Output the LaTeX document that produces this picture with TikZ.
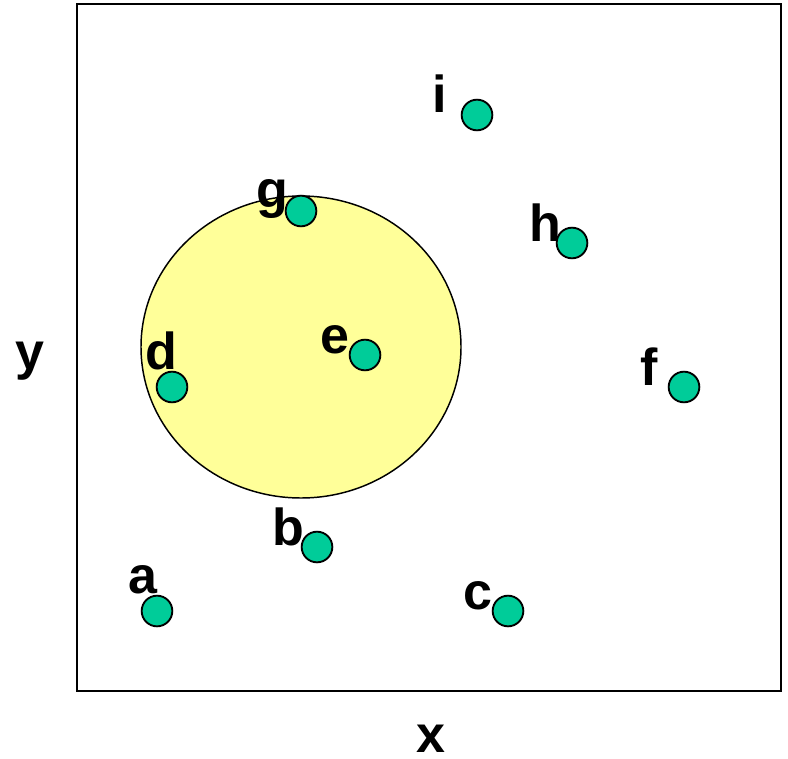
\documentclass[tikz,border=0pt]{standalone}
\usepackage{fontspec}
\setmainfont{Liberation Sans}
\usepackage{tikz}
\usetikzlibrary{positioning}

\definecolor{dotgreen}{HTML}{00CC99}
\definecolor{areayellow}{HTML}{FFFF99}
\tikzset{
  pt/.style={circle,draw=black,line width=1.4pt,fill=dotgreen,minimum size=23pt,inner sep=0pt},
  lbl/.style={anchor=base west,inner sep=0pt,font=\fontsize{39}{39}\selectfont\bfseries},
}

\begin{document}
\begin{tikzpicture}[x=0.75pt,y=-0.75pt]
  \useasboundingbox (0,0) rectangle (788,759);
  \draw[line width=1.6pt] (77,4) rectangle (781,691);
  \draw[line width=1.1pt,fill=areayellow] (301,347) ellipse [x radius=160,y radius=151]; % query region
  \node[pt] (a) at (157,611) {};
  \node[pt] (b) at (317,547) {};
  \node[pt] (c) at (508,611) {};
  \node[pt] (d) at (172,387) {};
  \node[pt] (e) at (365,355) {};
  \node[pt] (f) at (684,387) {};
  \node[pt] (g) at (301,211) {};
  \node[pt] (h) at (572,243) {};
  \node[pt] (i) at (477,115) {};
  \node[lbl] (la) at (128,593) {a};
  \node[lbl] (lb) at (272,545) {b};
  \node[lbl] (lc) at (463,609) {c};
  \node[lbl] (ld) at (145,369) {d};
  \node[lbl] (le) at (320,353) {e};
  \node[lbl] (lf) at (640,385) {f};
  \node[lbl] (lg) at (256,208) {g};
  \node[lbl] (lh) at (529,242) {h};
  \node[lbl] (li) at (432,113) {i};
  \node[lbl] (lx) at (416,752) {x}; % axes
  \node[lbl] (ly) at (15,369) {y};
\end{tikzpicture}
\end{document}
